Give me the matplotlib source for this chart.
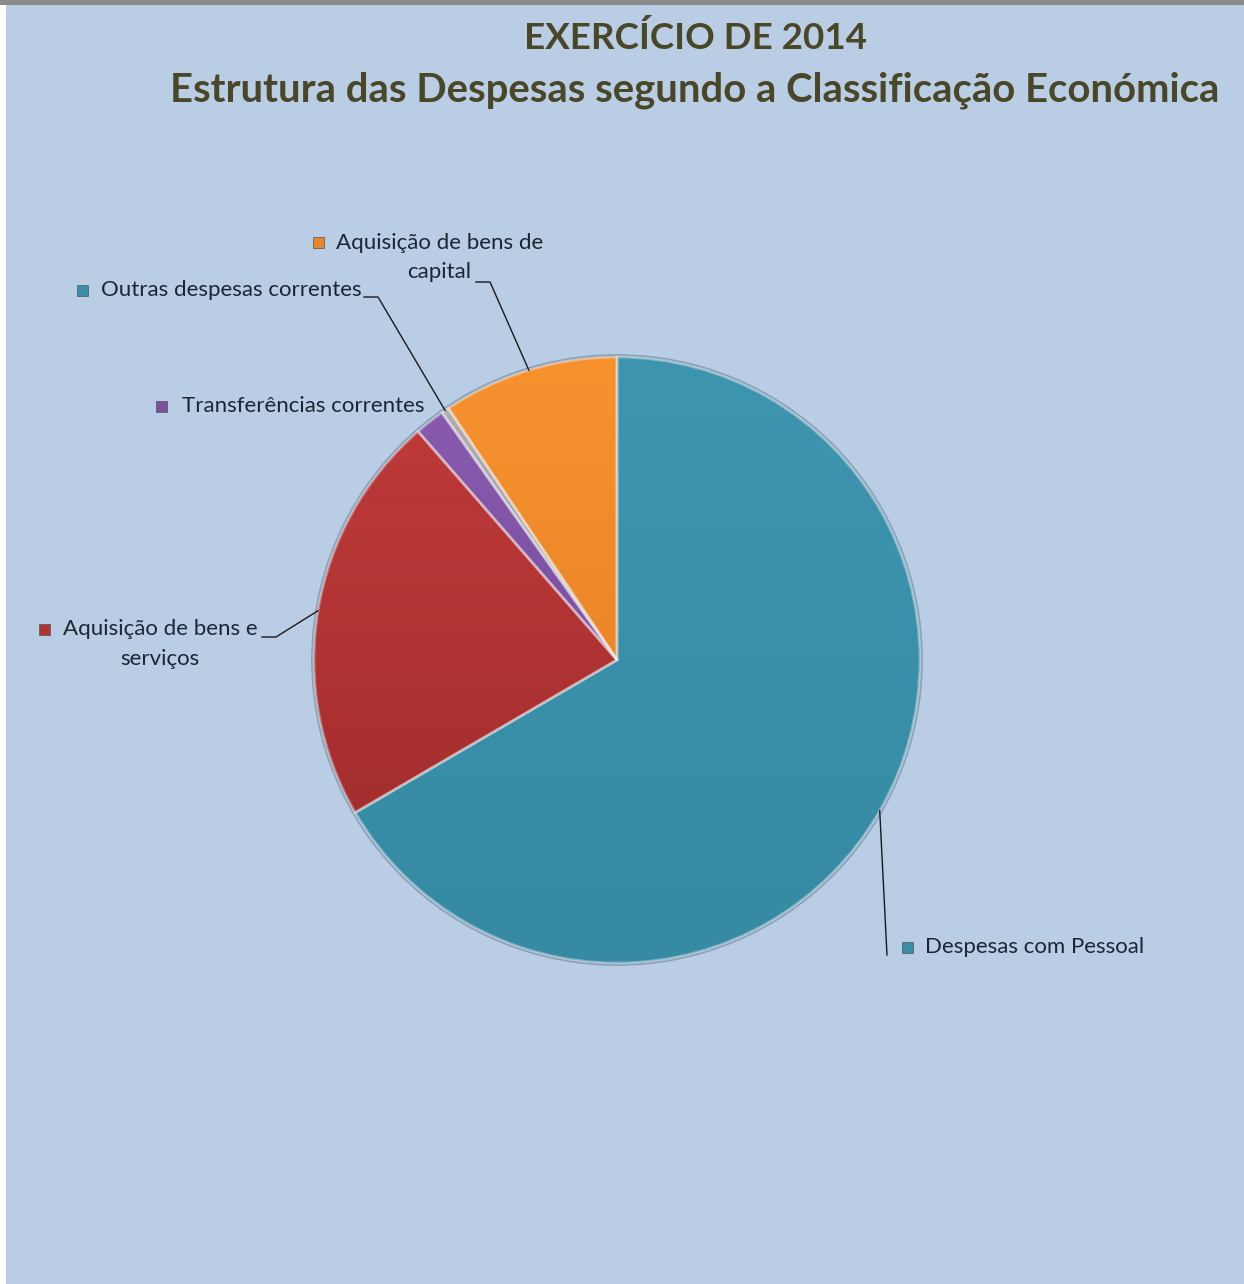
import numpy as np
import matplotlib
matplotlib.use("Agg")
import matplotlib.pyplot as plt
from matplotlib.patches import Rectangle

# data (percent of total)
categories = ["Despesas com Pessoal", "Aquisição de bens e\nserviços",
              "Transferências correntes", "Outras despesas correntes",
              "Aquisição de bens de\ncapital"]
shares = [66.6, 22.0, 1.6, 0.4, 9.4]
top_colors = ["#3E95B0", "#C23C3B", "#8A5CB0", "#B0B0B0", "#F7922F"]
bottom_colors = ["#368AA3", "#9B2A2A", "#6C4590", "#909090", "#E07B22"]
marker_colors = ["#3A8EA8", "#B03434", "#7B50A0", "#3A8EA8", "#E8842A"]

W, H = 1244, 1284
fig = plt.figure(figsize=(W / 100, H / 100), dpi=100, facecolor="white")

ax = fig.add_axes([0, 0, 1, 1])
ax.patch.set_alpha(0)

cx, cy, r = 617, H - 660, 303
wedges, _ = ax.pie(shares, startangle=90, counterclock=False, center=(cx, cy),
                   radius=r, colors=top_colors, frame=True)
ax.set_xlim(0, W)
ax.set_ylim(0, H)
ax.set_aspect("equal")
ax.axis("off")

# background panel and top border
ax.add_patch(Rectangle((6, 0), W - 6, H - 5, facecolor="#B9CDE5",
                       edgecolor="none", zorder=0))
ax.add_patch(Rectangle((0, H - 5), W, 5, facecolor="#8C8C8C",
                       edgecolor="none", zorder=0))

# soft outline around the whole pie
ax.add_patch(plt.Circle((cx, cy), r + 1.5, facecolor="none",
                        edgecolor=(0.2, 0.3, 0.4, 0.35), lw=2, zorder=0.5))

for w, c0, c1 in zip(wedges, top_colors, bottom_colors):
    a0 = np.array(matplotlib.colors.to_rgb(c0))
    a1 = np.array(matplotlib.colors.to_rgb(c1))
    t = np.linspace(0, 1, 200)[:, None, None]
    img = a0 + (a1 - a0) * t
    im = ax.imshow(img, extent=(cx - r, cx + r, cy - r, cy + r), origin="upper",
                   aspect="auto", zorder=1)
    im.set_clip_path(w)
    w.set_facecolor("none")
    w.set_edgecolor((1, 1, 1, 0.35))
    w.set_linewidth(2)
    w.set_zorder(2)

ax.set_xlim(0, W)
ax.set_ylim(0, H)

def arc_point(w):
    ang = np.deg2rad((w.theta1 + w.theta2) / 2)
    return cx + r * np.cos(ang), cy + r * np.sin(ang)

lab_kw = dict(fontsize=16, family="Lato", color="#1C2633", zorder=5)
mk = 11

def marker(x, y, color):
    ax.add_patch(Rectangle((x - mk / 2, H - y - mk / 2), mk, mk, facecolor=color,
                           edgecolor="#555555", linewidth=0.5, zorder=5))

# Despesas com Pessoal
marker(907, 947, marker_colors[0])
ax.text(925, H - 947, categories[0], ha="left", va="center", **lab_kw)
px, py = arc_point(wedges[0])
ax.plot([px, 887], [py, H - 955], color="#1A1A1A", lw=1, zorder=4)

# Aquisição de bens e serviços
marker(44, 629, marker_colors[1])
ax.text(63, H - 629, "Aquisição de bens e", ha="left", va="center", **lab_kw)
ax.text(160, H - 659, "serviços", ha="center", va="center", **lab_kw)
px, py = arc_point(wedges[1])
ax.plot([262, 276, px], [H - 637, H - 637, py], color="#1A1A1A", lw=1, zorder=4)

# Transferências correntes
marker(161, 406, marker_colors[2])
ax.text(182, H - 406, categories[2], ha="left", va="center", **lab_kw)

# Outras despesas correntes
marker(82, 290, marker_colors[3])
ax.text(101, H - 290, categories[3], ha="left", va="center", **lab_kw)
px, py = arc_point(wedges[3])
ax.plot([364, 378, px], [H - 297, H - 297, py], color="#1A1A1A", lw=1, zorder=4)

# Aquisição de bens de capital
marker(318, 242, marker_colors[4])
ax.text(336, H - 243, "Aquisição de bens de", ha="left", va="center", **lab_kw)
ax.text(439, H - 272, "capital", ha="center", va="center", **lab_kw)
px, py = arc_point(wedges[4])
ax.plot([476, 490, px], [H - 282, H - 282, py], color="#1A1A1A", lw=1, zorder=4)

title_kw = dict(family="Lato", fontweight="bold", color="#4A4628",
                ha="center", va="center")
ax.text(695, H - 38, "EXERCÍCIO DE 2014", fontsize=26.5, **title_kw)
ax.text(695, H - 90, "Estrutura das Despesas segundo a Classificação Económica",
        fontsize=28.8, **title_kw)

fig.savefig("out.png", dpi=100)
